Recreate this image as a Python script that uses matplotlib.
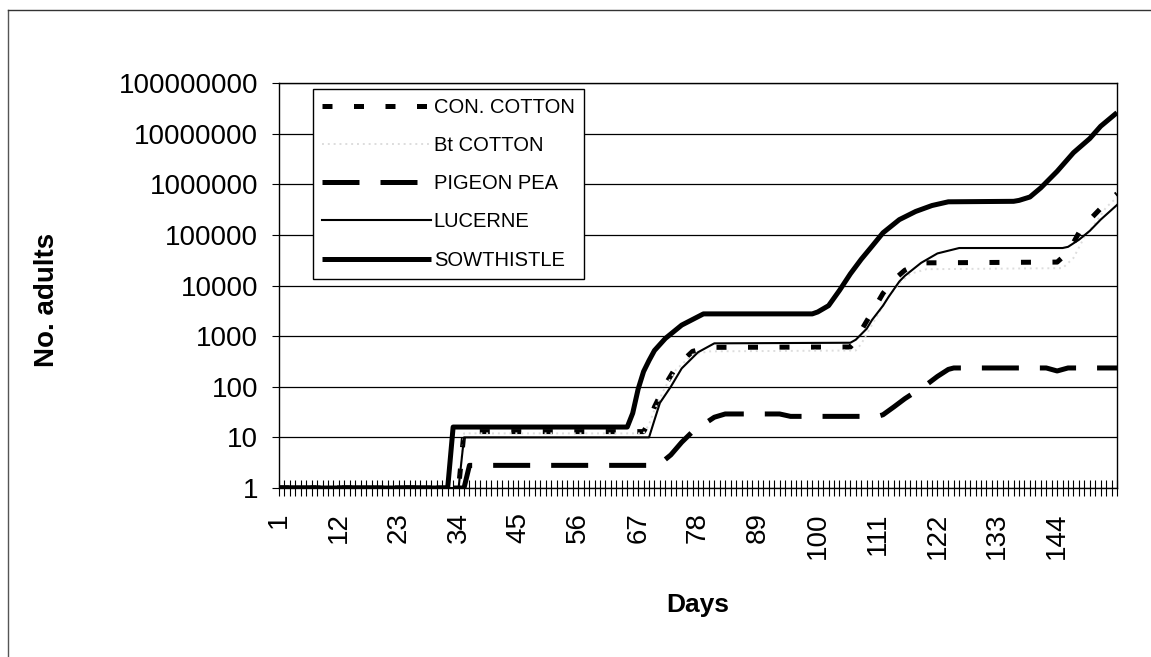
import matplotlib
matplotlib.use("Agg")
import matplotlib.pyplot as plt
from matplotlib.lines import Line2D
from matplotlib.ticker import FixedLocator, FuncFormatter

plt.rcParams['font.family'] = ['Liberation Sans', 'DejaVu Sans']

# values: (day, no. adults)
con_cotton_days = [1, 34, 35, 68, 69, 70, 72, 74, 77, 80, 106, 107, 108, 110, 112, 114, 116, 119, 144, 146, 148, 150, 153, 155]
con_cotton_adults = [1, 1, 13, 13, 20, 40, 110, 250, 500, 600, 610, 800, 1300, 3000, 7000, 13000, 20000, 28000, 29000, 45000, 110000, 200000, 430000, 650000]

bt_cotton_days = [1, 34, 35, 68, 69, 70, 72, 74, 77, 80, 107, 108, 109, 111, 113, 115, 117, 120, 145, 147, 149, 151, 153, 155]
bt_cotton_adults = [1, 1, 12, 12, 18, 35, 100, 220, 430, 500, 520, 700, 1100, 2600, 6000, 11000, 17000, 21000, 22000, 35000, 90000, 170000, 350000, 550000]

pigeon_pea_days = [1, 35, 36, 70, 71, 73, 75, 77, 79, 81, 83, 93, 95, 111, 112, 114, 116, 118, 120, 122, 124, 125, 142, 144, 146, 155]
pigeon_pea_adults = [1, 1, 2.8, 2.8, 3, 4.5, 8, 13, 18, 25, 29, 29, 26, 26, 28, 40, 58, 80, 110, 160, 220, 235, 235, 205, 235, 235]

lucerne_days = [1, 34, 35, 69, 70, 71, 73, 75, 78, 81, 106, 107, 109, 110, 112, 113, 115, 116, 119, 122, 126, 145, 146, 148, 150, 152, 155]
lucerne_adults = [1, 1, 10, 10, 22, 48, 100, 230, 480, 720, 740, 850, 1400, 2100, 4000, 5900, 12000, 15500, 28000, 43000, 55000, 55000, 58000, 80000, 120000, 200000, 390000]

sowthistle_days = [1, 32, 33, 65, 66, 67, 68, 69, 70, 72, 75, 79, 99, 100, 102, 104, 106, 108, 110, 112, 115, 118, 121, 124, 136, 137, 139, 141, 144, 147, 150, 152, 155]
sowthistle_adults = [1, 1, 16, 16, 30, 90, 200, 330, 520, 900, 1650, 2750, 2750, 3000, 4000, 8000, 17000, 33000, 60000, 110000, 200000, 290000, 380000, 450000, 460000, 480000, 560000, 850000, 1800000, 4200000, 8000000, 14000000, 26000000]

day_labels = [1, 12, 23, 34, 45, 56, 67, 78, 89, 100, 111, 122, 133, 144]
y_ticks = [1, 10, 100, 1000, 10000, 100000, 1000000, 10000000, 100000000]
last_day = 155


def draw_outer_frame(fig):
  # border of the chart area, only left and top are in the picture
  x0 = 8 / 1151.0
  y0 = 1 - 10 / 657.0
  fig.add_artist(Line2D([x0, x0], [0, y0], transform=fig.transFigure, color='#555555', lw=1))
  fig.add_artist(Line2D([x0, 1], [y0, y0], transform=fig.transFigure, color='#333333', lw=1))


if __name__ == '__main__':
  fig = plt.figure(figsize=(11.51, 6.57), dpi=100)
  ax = fig.add_axes([279 / 1151.0, 1 - 488 / 657.0, 838 / 1151.0, 405 / 657.0])

  ax.plot(con_cotton_days, con_cotton_adults, color='black', lw=3.6,
          dashes=(2.0, 4.3), dash_capstyle='butt', label='CON. COTTON')
  ax.plot(bt_cotton_days, bt_cotton_adults, color='#dddddd', lw=1.4,
          dashes=(1, 2), label='Bt COTTON')
  ax.plot(pigeon_pea_days, pigeon_pea_adults, color='black', lw=3.6,
          dashes=(7.4, 4.2), dash_capstyle='butt', label='PIGEON PEA')
  ax.plot(lucerne_days, lucerne_adults, color='black', lw=1.5, label='LUCERNE')
  ax.plot(sowthistle_days, sowthistle_adults, color='black', lw=3.6,
          solid_capstyle='butt', label='SOWTHISTLE')

  ax.set_yscale('log')
  ax.set_ylim(1, 1e8)
  ax.set_xlim(1, last_day)

  ax.yaxis.set_major_locator(FixedLocator(y_ticks))
  ax.yaxis.set_minor_locator(FixedLocator([]))
  ax.yaxis.set_major_formatter(FuncFormatter(lambda v, p: '%d' % int(round(v))))
  ax.tick_params(axis='y', which='major', direction='out', length=5, width=0.8,
                 pad=10, labelsize=20)

  ax.xaxis.set_major_locator(FixedLocator(day_labels))
  ax.xaxis.set_minor_locator(FixedLocator(list(range(1, last_day + 1))))
  ax.set_xticklabels([str(d) for d in day_labels], rotation=90)
  ax.tick_params(axis='x', which='both', direction='inout', length=11, width=0.8)
  ax.tick_params(axis='x', which='major', pad=12, labelsize=20)

  ax.yaxis.grid(True, color='black', lw=0.9)
  ax.set_axisbelow(True)
  for s in ax.spines.values():
    s.set_linewidth(1.0)
    s.set_color('black')

  leg = ax.legend(loc='upper left', bbox_to_anchor=(313 / 1151.0, 1 - 89 / 657.0),
                  bbox_transform=fig.transFigure, borderaxespad=0, fontsize=14.5,
                  handlelength=5.4, handletextpad=0.15, labelspacing=0.95,
                  borderpad=0.45, fancybox=False, framealpha=1, edgecolor='black')
  leg.get_frame().set_linewidth(1.0)

  fig.text(47 / 1151.0, 1 - 300 / 657.0, 'No. adults', rotation=90, fontsize=20,
           fontweight='bold', ha='center', va='center')
  fig.text(698 / 1151.0, 1 - 605 / 657.0, 'Days', fontsize=19,
           fontweight='bold', ha='center', va='center')

  draw_outer_frame(fig)
  fig.savefig('out.png', dpi=100)
